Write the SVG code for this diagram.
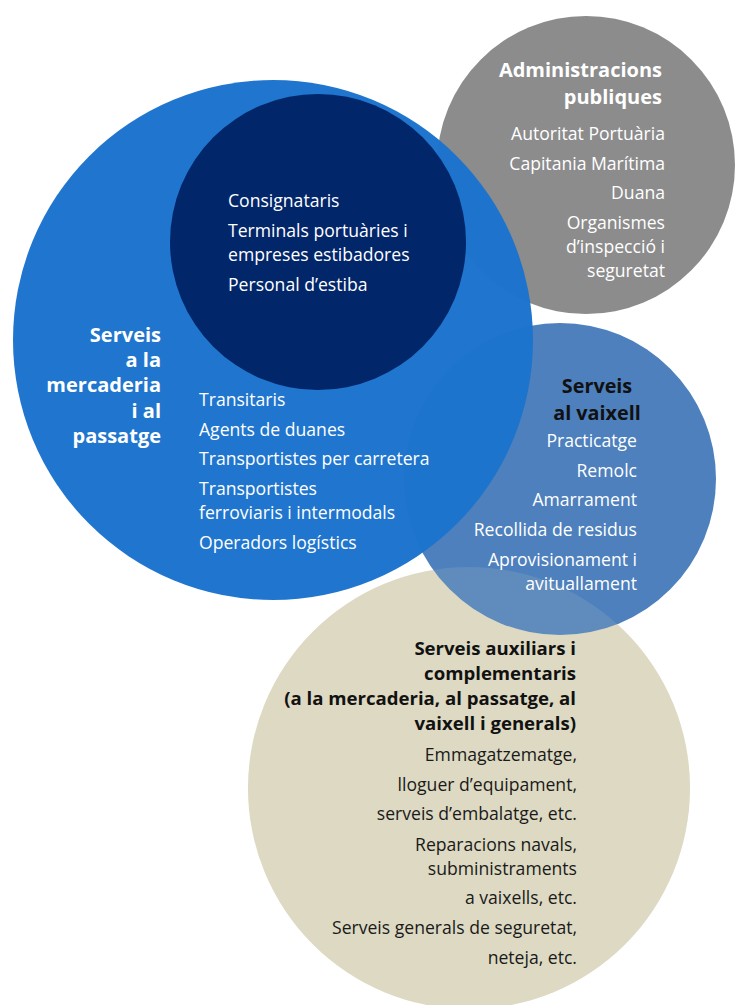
<svg xmlns="http://www.w3.org/2000/svg" width="736" height="1005" viewBox="0 0 736 1005">
<style>
text{font-family:"Open Sans","Noto Sans","Liberation Sans",sans-serif}
.r{font-size:17.6px;fill:#ffffff}
.rd{font-size:17.6px;fill:#1a1a1a}
.b{font-size:20px;font-weight:bold;fill:#ffffff}
.bd{font-size:18.6px;font-weight:bold;fill:#111111}
.bv{font-size:19.8px;font-weight:bold;fill:#111111}
.end{text-anchor:end}
.mid{text-anchor:middle}
</style>
<rect width="736" height="1005" fill="#ffffff"/>
<g id="admin">
<circle cx="586" cy="165" r="149" fill="#8C8C8C"/>
</g>
<g id="beige">
<circle cx="469" cy="788" r="221" fill="#DDD9C3"/>
</g>
<g id="vaixell">
<circle cx="560" cy="479" r="156" fill="#4D80BD"/>
<circle cx="469" cy="788" r="221" fill="#DDD9C3" fill-opacity="0.13"/>
</g>
<g id="mercaderia">
<circle cx="273" cy="340" r="260" fill="#1C73CD" fill-opacity="0.98"/>
</g>
<g id="navy">
<circle cx="318" cy="242" r="148" fill="#02266A"/>
</g>
<g id="connectors"></g>
<g id="admin-text">
<text class="b end" x="662" y="77">Administracions</text>
<text class="b end" x="662" y="104">publiques</text>
<text class="r end" x="665" y="140">Autoritat Portuària</text>
<text class="r end" x="665" y="170">Capitania Marítima</text>
<text class="r end" x="665" y="199">Duana</text>
<text class="r end" x="665" y="229">Organismes</text>
<text class="r end" x="665" y="253">d’inspecció i</text>
<text class="r end" x="665" y="277">seguretat</text>
</g>
<g id="navy-text">
<text class="r" x="228" y="207">Consignataris</text>
<text class="r" x="228" y="237">Terminals portuàries i</text>
<text class="r" x="228" y="261">empreses estibadores</text>
<text class="r" x="228" y="291">Personal d’estiba</text>
</g>
<g id="mercaderia-text">
<text class="b end" x="161" y="342">Serveis</text>
<text class="b end" x="161" y="367">a la</text>
<text class="b end" x="161" y="392">mercaderia</text>
<text class="b end" x="161" y="418">i al</text>
<text class="b end" x="161" y="443">passatge</text>
<text class="r" x="199" y="406">Transitaris</text>
<text class="r" x="199" y="436">Agents de duanes</text>
<text class="r" x="199" y="465">Transportistes per carretera</text>
<text class="r" x="199" y="495">Transportistes</text>
<text class="r" x="199" y="519">ferroviaris i intermodals</text>
<text class="r" x="199" y="549">Operadors logístics</text>
</g>
<g id="vaixell-text">
<text class="bv mid" x="597" y="393">Serveis</text>
<text class="bv mid" x="597" y="420">al vaixell</text>
<text class="r end" x="637" y="447">Practicatge</text>
<text class="r end" x="637" y="477">Remolc</text>
<text class="r end" x="637" y="506">Amarrament</text>
<text class="r end" x="637" y="536">Recollida de residus</text>
<text class="r end" x="637" y="566">Aprovisionament i</text>
<text class="r end" x="637" y="590">avituallament</text>
</g>
<g id="beige-text">
<text class="bd end" x="576" y="655">Serveis auxiliars i</text>
<text class="bd end" x="576" y="680">complementaris</text>
<text class="bd end" x="576" y="705">(a la mercaderia, al passatge, al</text>
<text class="bd end" x="576" y="730">vaixell i generals)</text>
<text class="rd end" x="577" y="761">Emmagatzematge,</text>
<text class="rd end" x="577" y="791">lloguer d’equipament,</text>
<text class="rd end" x="577" y="820">serveis d’embalatge, etc.</text>
<text class="rd end" x="577" y="851">Reparacions navals,</text>
<text class="rd end" x="577" y="875">subministraments</text>
<text class="rd end" x="577" y="904">a vaixells, etc.</text>
<text class="rd end" x="577" y="934">Serveis generals de seguretat,</text>
<text class="rd end" x="577" y="964">neteja, etc.</text>
</g>
</svg>
